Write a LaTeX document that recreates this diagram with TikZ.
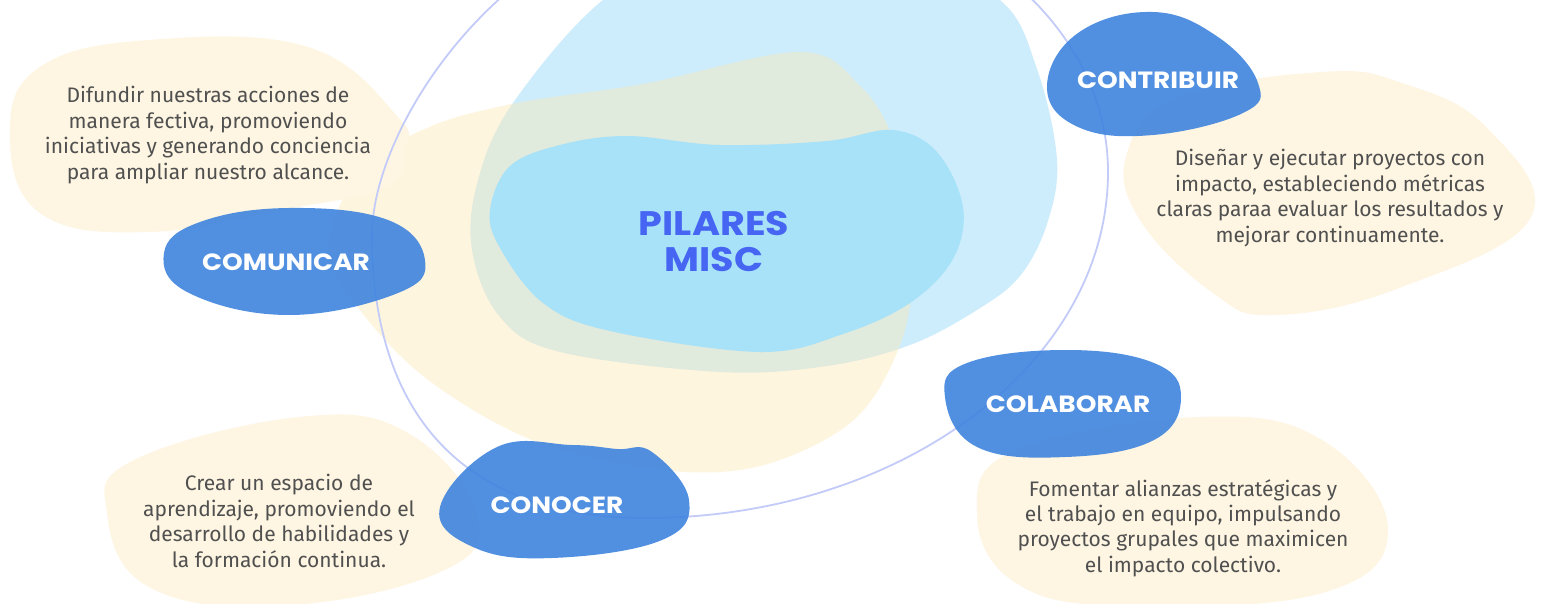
\documentclass[tikz,border=0pt]{standalone}
\usepackage{fontspec}
\setmainfont{Fira Sans}
\newfontfamily\headfont{Poppins}[FakeStretch=1.12]
\definecolor{skyblue}{HTML}{BEE8FC}
\definecolor{sand}{HTML}{FDE6B0}
\definecolor{innerblue}{HTML}{A8E2F8}
\definecolor{cream}{HTML}{FEF6E2}
\definecolor{pilarblue}{HTML}{3F84DE}
\definecolor{ringline}{HTML}{C3CBF8}
\definecolor{titleblue}{HTML}{4565F2}
\definecolor{bodygray}{HTML}{505050}
\tikzset{
    pilar/.style={
    font=\headfont\bfseries\fontsize{23.5}{28}\selectfont,
    text=white
  },
    desc/.style={
    font=\fontsize{21}{25.4}\selectfont,
    text=bodygray,
    align=center
  },
    blob/.style={
    fill=pilarblue,
    fill opacity=0.9
  },
    note/.style={
    fill=cream
  }
}

\begin{document}
\begin{tikzpicture}[x=1pt, y=-1pt]
  \clip (0,0) rectangle (1553,604);
  \fill[white] (0,0) rectangle (1553,604);

  % background shapes
  \fill[skyblue, fill opacity=0.75] plot[smooth cycle, tension=0.6] coordinates {
    (700,-45) (900,-45) (1000,0) (1037,69) (1057,160) (1047,224) (1020,276)
    (977,310) (910,345) (827,366) (720,372) (560,352) (500,317) (472,250)
    (478,180) (513,103) (603,0)};
  \fill[sand, fill opacity=0.4] plot[smooth cycle, tension=0.6] coordinates {
    (328,250) (360,172) (427,128) (517,103) (643,84) (800,52) (860,86)
    (893,138) (910,207) (913,276) (900,345) (860,414) (793,455) (720,472)
    (627,465) (527,438) (427,379) (360,310)};
  \fill[innerblue] plot[smooth cycle, tension=0.6] coordinates {
    (490,210) (510,166) (560,145) (627,136) (720,145) (827,141) (893,130)
    (937,152) (963,207) (953,259) (910,303) (843,334) (760,352) (610,331)
    (543,303) (500,248)};

  % notes
  \fill[note] plot[smooth cycle, tension=0.7] coordinates {
    (10,133) (40,67) (149,40) (308,47) (398,117) (405,150)
    (388,187) (298,207) (149,232) (40,213)};
  \fill[note] plot[smooth cycle, tension=0.7] coordinates {
    (1128,150) (1178,97) (1322,72) (1402,83) (1486,127) (1531,217)
    (1402,287) (1277,315) (1213,293) (1138,217)};
  \fill[note] plot[smooth cycle, tension=0.7] coordinates {
    (107,513) (134,460) (299,417) (408,433) (478,517) (438,573)
    (279,606) (149,587)};
  \fill[note] plot[smooth cycle, tension=0.7] coordinates {
    (977,513) (1016,450) (1199,417) (1322,440) (1388,530) (1322,593)
    (1125,606) (1016,583)};

  % ring
  \draw[ringline, line width=1.8pt] (372,235) .. controls (372,419) and (468,518) .. (646,518)
    .. controls (901,518) and (1108,363) .. (1108,172)
    .. controls (1108,19) and (952,-105) .. (760,-105)
    .. controls (520,-105) and (372,120) .. cycle;

  % pilar shapes
  \fill[blob] plot[smooth cycle, tension=0.7] coordinates {
    (164,253) (200,222) (289,208) (388,220) (425,260)
    (398,293) (289,315) (189,293)};
  \fill[blob] plot[smooth cycle, tension=0.7] coordinates {
    (1153,12) (1218,37) (1258,83) (1243,113) (1153,135)
    (1078,127) (1047,87) (1078,33)};
  \fill[blob] plot[smooth cycle, tension=0.7] coordinates {
    (1066,350) (1154,363) (1181,397) (1154,440) (1066,457)
    (977,447) (945,397) (967,363)};
  \fill[blob] plot[smooth cycle, tension=0.7] coordinates {
    (497,447) (572,445) (617,449) (652,452) (689,500) (662,540)
    (552,558) (473,547) (440,507)};

  \node (n_center) at (714,242) [font=\headfont\bfseries\fontsize{34}{36}\selectfont, text=titleblue, align=center] {PILARES\\MISC};
  \node[pilar] (n_comunicar) at (286,262) {COMUNICAR};
  \node[pilar] (n_contribuir) at (1158,80) {CONTRIBUIR};
  \node[pilar] (n_colaborar) at (1068,404) {COLABORAR};
  \node[pilar] (n_conocer) at (557,505) {CONOCER};

  \node[desc] (d_comunicar) at (208,135) {Difundir nuestras acciones de\\manera fectiva, promoviendo\\iniciativas y generando conciencia\\para ampliar nuestro alcance.};
  \node[desc] (d_contribuir) at (1330,198) {Diseñar y ejecutar proyectos con\\impacto, estableciendo métricas\\claras paraa evaluar los resultados y\\mejorar continuamente.};
  \node[desc] (d_conocer) at (279,521) {Crear un espacio de\\aprendizaje, promoviendo el\\desarrollo de habilidades y\\la formación continua.};
  \node[desc] (d_colaborar) at (1183,528) {Fomentar alianzas estratégicas y\\el trabajo en equipo, impulsando\\proyectos grupales que maximicen\\el impacto colectivo.};
\end{tikzpicture}
\end{document}
